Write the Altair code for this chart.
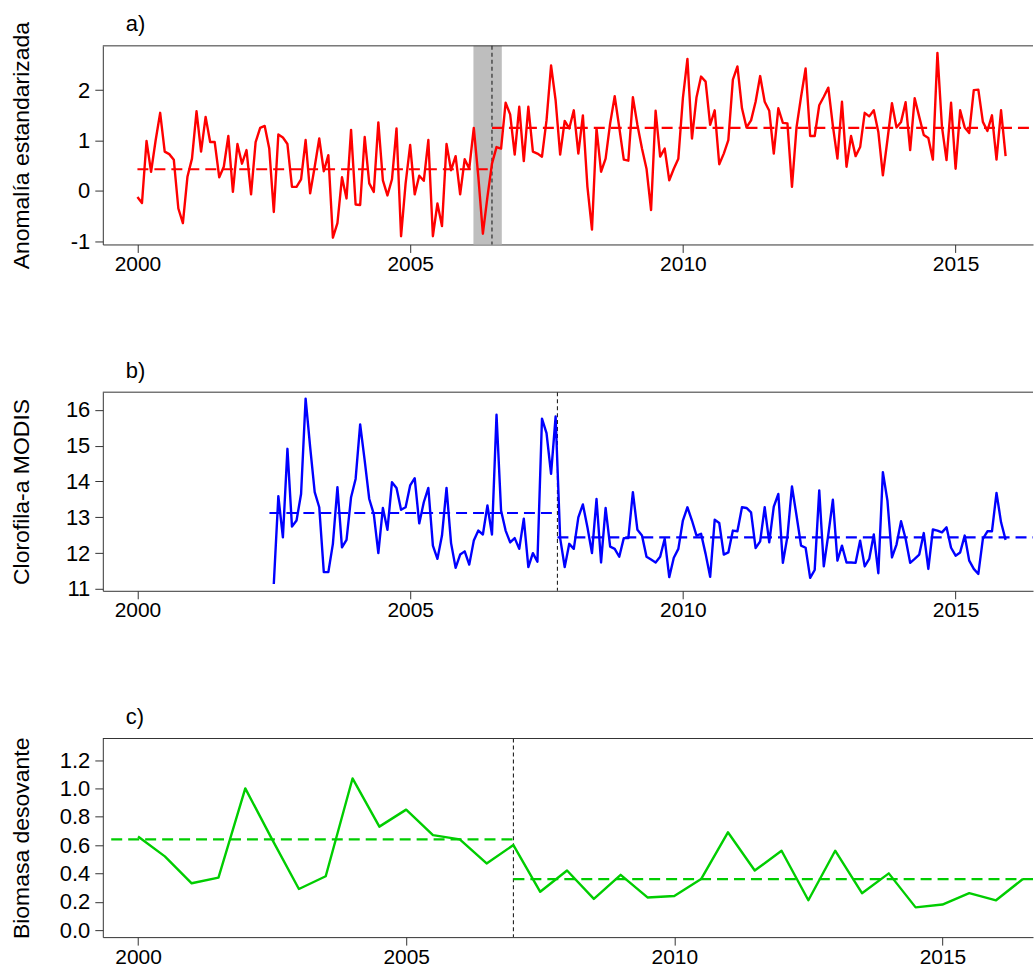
import altair as alt
import pandas as pd

# ---------------- data ----------------
# a) standardized anomaly, monthly Jan 2000 - Dec 2015
anom = [
    -0.12, -0.24, 0.99, 0.38, 1.00, 1.55, 0.78, 0.73, 0.62, -0.35, -0.64, 0.28,
    0.64, 1.58, 0.78, 1.47, 0.97, 0.97, 0.27, 0.48, 1.09, -0.02, 0.93, 0.54,
    0.81, -0.07, 0.97, 1.25, 1.29, 0.84, -0.42, 1.12, 1.06, 0.93, 0.08, 0.08,
    0.23, 1.01, -0.05, 0.48, 1.04, 0.39, 0.71, -0.93, -0.64, 0.27, -0.15, 1.21,
    -0.27, -0.28, 1.07, 0.15, -0.02, 1.36, 0.21, -0.09, 0.23, 1.24, -0.90, 0.15,
    0.91, -0.07, 0.30, 0.20, 1.01, -0.90, -0.25, -0.70, 0.93, 0.41, 0.69, -0.07,
    0.63, 0.44, 1.25, 0.28, -0.85, -0.12, 0.54, 0.87, 0.84, 1.75, 1.52, 0.72,
    1.67, 0.59, 1.67, 0.78, 0.74, 0.68, 1.40, 2.49, 1.80, 0.72, 1.39, 1.24,
    1.60, 0.74, 1.50, 0.08, -0.77, 1.24, 0.38, 0.64, 1.34, 1.88, 1.26, 0.62,
    0.60, 1.86, 1.31, 0.84, 0.44, -0.38, 1.59, 0.68, 0.84, 0.21, 0.44, 0.64,
    1.84, 2.62, 1.04, 1.86, 2.27, 2.17, 1.31, 1.60, 0.53, 0.74, 1.01, 2.21,
    2.47, 1.64, 1.26, 1.40, 1.77, 2.28, 1.77, 1.59, 0.74, 1.64, 1.35, 1.34,
    0.08, 1.26, 1.87, 2.43, 1.09, 1.09, 1.70, 1.87, 2.05, 1.29, 0.64, 1.77,
    0.48, 1.09, 0.69, 0.87, 1.55, 1.48, 1.60, 1.17, 0.31, 1.01, 1.74, 1.26,
    1.37, 1.76, 0.81, 1.84, 1.47, 1.11, 1.05, 0.62, 2.74, 1.27, 0.61, 1.75,
    0.44, 1.60, 1.26, 1.15, 2.00, 2.01, 1.37, 1.19, 1.50, 0.62, 1.60, 0.69,
]
anom_start = 2000.0
anom_means = [0.43, 1.25]
anom_mean_x = [2000.0, 2006.5, 2017.5]
anom_break = 2006.5
anom_band = [2006.16, 2006.68]

# b) MODIS chlorophyll-a, monthly Jul 2002 - Dec 2015
chl = [
    11.14, 13.59, 12.44, 14.91, 12.74, 12.91,
    13.65, 16.31, 14.96, 13.70, 13.28, 11.47, 11.47, 12.26, 13.84, 12.16, 12.37, 13.56,
    14.07, 15.59, 14.58, 13.51, 13.09, 12.00, 13.26, 12.65, 13.98, 13.82, 13.21, 13.28,
    13.89, 14.09, 12.83, 13.42, 13.82, 12.21, 11.84, 12.49, 13.82, 12.28, 11.59, 11.96,
    12.05, 11.68, 12.35, 12.63, 12.52, 13.33, 12.52, 15.86, 13.19, 12.63, 12.30, 12.42,
    12.12, 12.96, 11.61, 12.00, 11.76, 15.75, 15.35, 14.21, 15.81, 12.42, 11.61, 12.26,
    12.12, 13.00, 13.36, 12.72, 12.00, 13.51, 11.74, 13.26, 12.18, 12.12, 11.90, 12.42,
    12.42, 13.70, 12.65, 12.49, 11.90, 11.82, 11.74, 11.90, 12.40, 11.33, 11.87, 12.12,
    12.91, 13.28, 12.91, 12.49, 12.54, 11.98, 11.34, 12.93, 12.84, 11.96, 12.02, 12.63,
    12.61, 13.28, 13.26, 13.14, 12.14, 12.33, 13.28, 12.30, 13.30, 13.65, 11.73, 12.46,
    13.86, 13.05, 12.21, 12.15, 11.31, 11.53, 13.75, 11.63, 12.52, 13.49, 11.79, 12.21,
    11.74, 11.74, 11.73, 12.35, 11.63, 11.84, 12.52, 11.44, 14.26, 13.47, 11.88, 12.24,
    12.89, 12.40, 11.73, 11.84, 11.96, 12.56, 11.56, 12.66, 12.63, 12.58, 12.72, 12.15,
    11.93, 12.02, 12.49, 11.79, 11.56, 11.42, 12.40, 12.61, 12.61, 13.68, 12.86, 12.37,
]
chl_start = 2002.5
chl_means = [13.12, 12.44]
chl_mean_x = [2002.42, 2007.7, 2017.5]
chl_break = 2007.7

# c) spawning biomass, half-yearly 2000.0 - 2016.5
bio = [
    0.66, 0.52, 0.33, 0.37, 1.00, 0.64, 0.29, 0.38, 1.07, 0.73, 0.85, 0.67, 0.64, 0.47, 0.60,
    0.27, 0.42, 0.22, 0.39, 0.23, 0.24, 0.36, 0.69, 0.42, 0.56, 0.21, 0.56, 0.26, 0.40,
    0.16, 0.18, 0.26, 0.21, 0.36,
]
bio_start = 2000.0
bio_means = [0.64, 0.36]
bio_mean_x = [1999.5, 2007.0, 2017.5]
bio_break = 2007.0

year_ticks = [2000, 2005, 2010, 2015]

# ---------------- layout / style ----------------
W = 932
H = 199
FONT = "Liberation Sans"
AXC = "#333333"


def series_df(vals, start, step):
    return pd.DataFrame({"year": [start + i * step for i in range(len(vals))], "value": vals})


def means_df(means, xs):
    return pd.DataFrame({"x0": xs[:-1], "x1": xs[1:], "v": means})


def panel(label, df, color, xdom, ydom, yvals, yfmt, ytitle, mdf, brk, band=None):
    xs = alt.Scale(domain=xdom, nice=False, zero=False)
    ys = alt.Scale(domain=ydom, nice=False, zero=False)
    xaxis = alt.Axis(values=year_ticks, format="d", title=None, grid=False,
                     tickSize=8, labelPadding=1, labelFontSize=21, labelFont=FONT,
                     labelColor="black", domainColor=AXC, tickColor=AXC,
                     labelFlush=False, labelOverlap=False)
    yargs = dict(values=yvals, title=ytitle, grid=False,
                 tickSize=8, labelPadding=5, labelFontSize=22, labelFont=FONT,
                 labelColor="black", domainColor=AXC, tickColor=AXC,
                 titleFont=FONT, titleFontSize=23, titleFontWeight="normal",
                 titleColor="black", titleX=-74, titleY=H / 2, titleAngle=270,
                 titleAlign="center", titleBaseline="alphabetic",
                 labelFlush=False, labelOverlap=False)
    if yfmt == "d":
        yargs["labelExpr"] = "'' + datum.value"
    else:
        yargs["format"] = yfmt
    yaxis = alt.Axis(**yargs)
    layers = []
    if band is not None:
        layers.append(
            alt.Chart(pd.DataFrame({"b0": [band[0]], "b1": [band[1]]}))
            .mark_rect(color="#bebebe", opacity=1)
            .encode(x=alt.X("b0:Q", scale=xs, axis=xaxis), x2="b1:Q",
                    y=alt.value(0), y2=alt.value(H))
        )
    layers.append(
        alt.Chart(pd.DataFrame({"bx": [brk]}))
        .mark_rule(color="#222222", strokeWidth=1.1, strokeDash=[4, 3])
        .encode(x=alt.X("bx:Q", scale=xs, axis=xaxis), y=alt.value(0), y2=alt.value(H))
    )
    layers.append(
        alt.Chart(mdf)
        .mark_rule(color=color, strokeWidth=2.2, strokeDash=[11, 6], clip=True)
        .encode(x=alt.X("x0:Q", scale=xs, axis=xaxis), x2="x1:Q",
                y=alt.Y("v:Q", scale=ys, axis=yaxis))
    )
    layers.append(
        alt.Chart(df)
        .mark_line(color=color, strokeWidth=2.4, clip=True, strokeJoin="round")
        .encode(x=alt.X("year:Q", scale=xs, axis=xaxis),
                y=alt.Y("value:Q", scale=ys, axis=yaxis))
    )
    layers.append(
        alt.Chart(pd.DataFrame({"k": [0]}))
        .mark_rule(color=AXC, strokeWidth=1)
        .encode(x=alt.value(0), x2=alt.value(W), y=alt.value(0))
    )
    layers.append(
        alt.Chart(pd.DataFrame({"k": [0]}))
        .mark_text(align="left", baseline="alphabetic", fontSize=22, font=FONT, color="black")
        .encode(x=alt.value(23), y=alt.value(-14.5), text=alt.value(label))
    )
    return alt.layer(*layers).properties(width=W, height=H)


xdom_ab = [1999.365, 2016.419]
xdom_c = [1999.343, 2016.689]

pa = panel("a)", series_df(anom, anom_start, 1 / 12), "#ff0000", xdom_ab, [-1.064, 2.88],
           [-1, 0, 1, 2], "d", "Anomalía estandarizada",
           means_df(anom_means, anom_mean_x), anom_break, band=anom_band)
pb = panel("b)", series_df(chl, chl_start, 1 / 12), "#0000ff", xdom_ab, [10.95, 16.49],
           [11, 12, 13, 14, 15, 16], "d", "Clorofila-a MODIS",
           means_df(chl_means, chl_mean_x), chl_break)
pc = panel("c)", series_df(bio, bio_start, 0.5), "#00cd00", xdom_c, [-0.05, 1.352],
           [0, 0.2, 0.4, 0.6, 0.8, 1.0, 1.2], ".1f", "Biomasa desovante",
           means_df(bio_means, bio_mean_x), bio_break)

chart = (
    alt.vconcat(pa, pb, pc, spacing=148, bounds="flush")
    .properties(padding={"left": 10, "top": 12, "right": 0, "bottom": 0},
                background="white")
    .configure_view(stroke=None)
)

chart.save("out.html", embed_options={"renderer": "svg", "actions": False})
